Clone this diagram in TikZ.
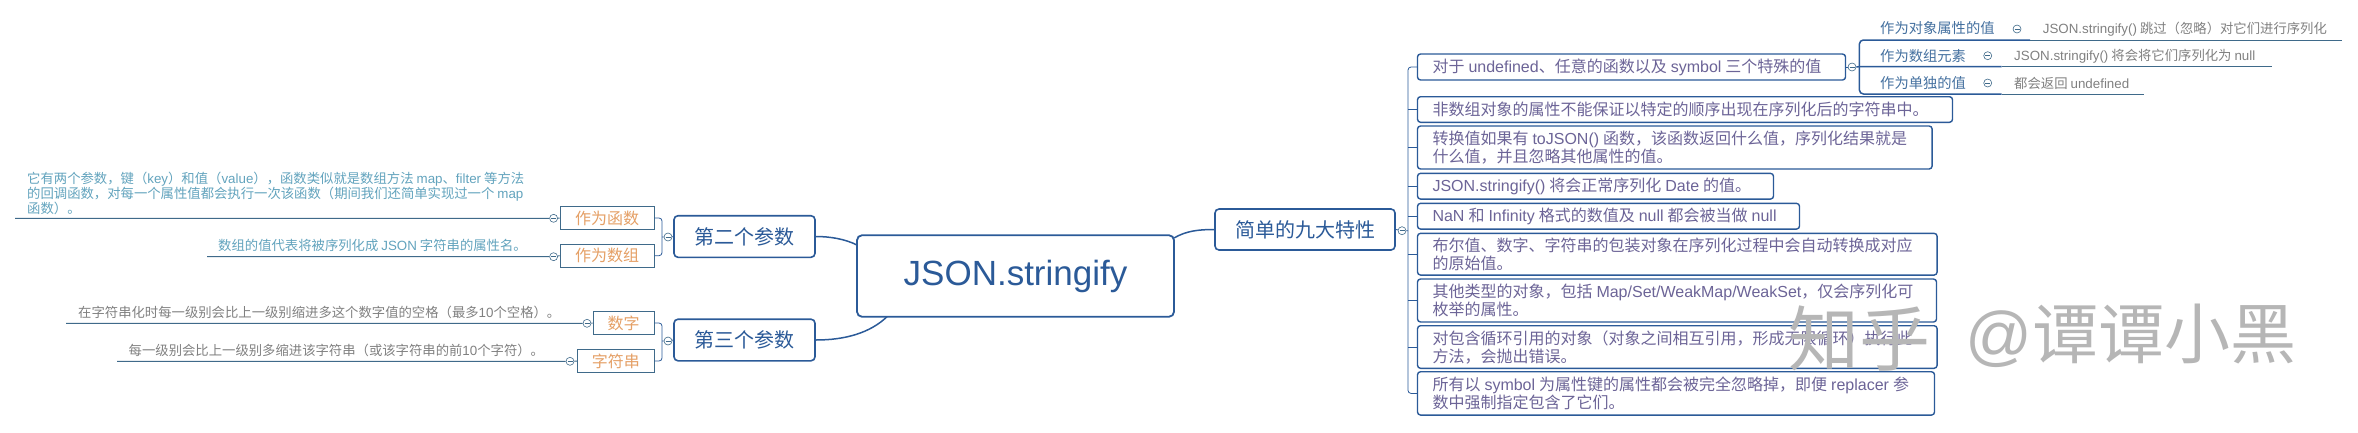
\documentclass[tikz,border=0pt]{standalone}
\usepackage{fontspec}
\setmainfont{Noto Sans CJK SC}
\newfontfamily\lat{Liberation Sans}
\newcommand{\La}[1]{{\lat #1}}
\newcommand{\fsz}[2]{\fontsize{#1}{#2}\selectfont}
\definecolor{mainblue}{HTML}{2B5A98}
\definecolor{lineblue}{HTML}{3F6A8A}
\definecolor{tealtxt}{HTML}{62A3BD}
\definecolor{orangetxt}{HTML}{E5A066}
\definecolor{greytxt}{HTML}{808080}
\definecolor{purptxt}{HTML}{6C6497}
\definecolor{subtxt}{HTML}{44709F}
\definecolor{wm}{HTML}{B6B6B6}
\tikzset{
  rootbox/.style={draw=mainblue,line width=1.8pt,rounded corners=5pt,fill=white,text=mainblue,align=center,inner sep=0pt,font=\lat\fsz{35}{40}},
  mainbox/.style={draw=mainblue,line width=1.6pt,rounded corners=4pt,fill=white,text=mainblue,align=center,inner sep=0pt,font=\fsz{20}{24}},
  orbox/.style={draw=lineblue,line width=.8pt,fill=white,text=orangetxt,align=center,inner sep=0pt,font=\fsz{16}{18}},
  rbox/.style={draw=mainblue,line width=1.4pt,rounded corners=3pt,fill=white,text=purptxt,align=left,inner xsep=15pt,inner ysep=0pt,anchor=west,font=\fsz{16}{18},execute at begin node={\spaceskip=4pt\relax}},
  leaftxt/.style={anchor=west,inner sep=0pt,align=left,font=\fsz{13.35}{15}},
  subtext/.style={anchor=west,inner sep=0pt,text=subtxt,font=\fsz{14.3}{16}},
  subnote/.style={anchor=west,inner sep=0pt,text=greytxt,font=\fsz{13.35}{15}},
  toggle/.style={circle,draw=lineblue,line width=.6pt,fill=white,minimum size=8pt,inner sep=0pt,
    path picture={\draw[lineblue,line width=.6pt] ([xshift=1.5pt]path picture bounding box.west) -- ([xshift=-1.5pt]path picture bounding box.east);}},
  link/.style={draw=mainblue,line width=1.5pt},
  thinlink/.style={draw=lineblue,line width=1pt},
  brace/.style={draw=mainblue,line width=.8pt,rounded corners=3pt},
  wmtxt/.style={inner sep=0pt,anchor=west,text=wm,font=\fsz{66}{70}}
}
\begin{document}
\begin{tikzpicture}[x=1pt,y=-1pt]
\useasboundingbox (0,0) rectangle (2358,432);
% root and main
\node[rootbox,minimum width=317pt,minimum height=81.5pt] (root) at (1015.5,276) {JSON.stringify};
\node[mainbox,minimum width=180pt,minimum height=41pt] (nine) at (1305,229.5) {简单的九大特性};
\node[mainbox,minimum width=141pt,minimum height=41.6pt] (two) at (744.5,236.5) {第二个参数};
\node[mainbox,minimum width=141pt,minimum height=41.6pt] (three) at (744.5,340) {第三个参数};
\coordinate (rootR) at (1174,238);
\coordinate (rootL) at (857,245);
\coordinate (rootB) at (887,316.7);
\draw[link] (rootR) .. controls (1186,231) and (1198,229.5) .. (nine.west);
\draw[link] (rootL) .. controls (845,239) and (830,236.5) .. (two.east);
\draw[link] (rootB) .. controls (870,333) and (845,340) .. (three.east);
% left: second parameter
\node[orbox,minimum width=94pt,minimum height=22.6pt] (fn) at (607,218) {作为函数};
\node[orbox,minimum width=94pt,minimum height=22.6pt] (arr) at (607,255.7) {作为数组};
\node[toggle] (tTwo) at (668,237) {};
\node[toggle] (tFn) at (553.6,218.3) {};
\node[toggle] (tArr) at (553.6,256.7) {};
\coordinate (brTwo) at (662,237);
\coordinate (endFn) at (15,218.3);
\coordinate (endArr) at (207,256.7);
\draw[brace] (fn.east) -| (brTwo) |- (arr.east);
\draw[brace] (brTwo) -- (tTwo) (tTwo) -- (two.west);
\draw[thinlink] (endFn) -- (tFn) (tFn) -- (fn.west);
\draw[thinlink] (endArr) -- (tArr) (tArr) -- (arr.west);
\node[leaftxt,text=tealtxt] (noteFn) at (27,193) {它有两个参数，键（\La{key}）和值（\La{value}），函数类似就是数组方法 \La{map}、\La{filter} 等方法\\的回调函数，对每一个属性值都会执行一次该函数（期间我们还简单实现过一个 \La{map}\\函数）。};
\node[leaftxt,text=tealtxt] (noteArr) at (218,245.7) {数组的值代表将被序列化成 \La{JSON} 字符串的属性名。};
% left: third parameter
\node[orbox,minimum width=61pt,minimum height=22.6pt] (num) at (623.5,323) {数字};
\node[orbox,minimum width=76.5pt,minimum height=22.6pt] (str) at (615.8,361) {字符串};
\node[toggle] (tThree) at (668,341) {};
\node[toggle] (tNum) at (587,323.3) {};
\node[toggle] (tStr) at (570,361.3) {};
\coordinate (brThree) at (662,341);
\coordinate (endNum) at (66,323.3);
\coordinate (endStr) at (117,361.3);
\draw[brace] (num.east) -| (brThree) |- (str.east);
\draw[brace] (brThree) -- (tThree) (tThree) -- (three.west);
\draw[thinlink] (endNum) -- (tNum) (tNum) -- (num.west);
\draw[thinlink] (endStr) -- (tStr) (tStr) -- (str.west);
\node[leaftxt,text=greytxt] (noteNum) at (78,312.7) {在字符串化时每一级别会比上一级别缩进多这个数字值的空格（最多\La{10}个空格）。};
\node[leaftxt,text=greytxt] (noteStr) at (128.5,350.7) {每一级别会比上一级别多缩进该字符串（或该字符串的前\La{10}个字符）。};
% right boxes
\node[rbox,minimum height=26pt,text width=398pt] (b1) at (1416.8,67) {对于 \La{undefined}、任意的函数以及 \La{symbol} 三个特殊的值};
\node[rbox,minimum height=25.6pt,text width=505pt] (b2) at (1416.8,109.5) {非数组对象的属性不能保证以特定的顺序出现在序列化后的字符串中。};
\node[rbox,minimum height=43pt,text width=484.6pt] (b3) at (1416.8,147.5) {转换值如果有 \La{toJSON()} 函数，该函数返回什么值，序列化结果就是\\什么值，并且忽略其他属性的值。};
\node[rbox,minimum height=25.7pt,text width=326pt] (b4) at (1416.8,186.2) {\La{JSON.stringify()} 将会正常序列化 \La{Date} 的值。};
\node[rbox,minimum height=25.7pt,text width=352pt] (b5) at (1416.8,216.2) {\mbox{\La{NaN} 和 \La{Infinity} 格式的数值及 \La{null} 都会被当做 \La{null}}};
\node[rbox,minimum height=41.7pt,text width=489.6pt] (b6) at (1416.8,254.2) {布尔值、数字、字符串的包装对象在序列化过程中会自动转换成对应\\的原始值。};
\node[rbox,minimum height=43pt,text width=489pt] (b7) at (1416.8,300.5) {其他类型的对象，包括 \La{Map/Set/WeakMap/WeakSet}，仅会序列化可\\枚举的属性。};
\node[rbox,minimum height=42.6pt,text width=489.6pt] (b8) at (1416.8,347) {对包含循环引用的对象（对象之间相互引用，形成无限循环）执行此\\方法，会抛出错误。};
\node[rbox,minimum height=43.3pt,text width=487pt] (b9) at (1416.8,393.4) {所有以 \La{symbol} 为属性键的属性都会被完全忽略掉，即便 \La{replacer} 参\\数中强制指定包含了它们。};
\node[toggle] (tNine) at (1402,230.7) {};
\coordinate (spine) at (1408,230.7);
\draw[brace] (b1.west) -| (spine) |- (b9.west);
\draw[brace] (b2.west) -- (b2.west -| spine);
\draw[brace] (b3.west) -- (b3.west -| spine);
\draw[brace] (b4.west) -- (b4.west -| spine);
\draw[brace] (b5.west) -- (b5.west -| spine);
\draw[brace] (b6.west) -- (b6.west -| spine);
\draw[brace] (b7.west) -- (b7.west -| spine);
\draw[brace] (b8.west) -- (b8.west -| spine);
\draw[brace] (nine.east) -- (tNine) (tNine) -- (spine);
% sub items
\node[toggle] (tB1) at (1852,67) {};
\draw[brace] (b1.east) -- (tB1);
\coordinate (brTop) at (1859.4,40);
\coordinate (brBot) at (1859.4,94);
\coordinate (darkTop) at (2030,40);
\coordinate (darkMid) at (2001.7,66.7);
\coordinate (darkBot) at (2001.7,94);
\coordinate (midL) at (1859.4,66.7);
\coordinate (endTop) at (2342,40);
\coordinate (endMid) at (2271.7,66.7);
\coordinate (endBot) at (2144,94);
\draw[link,rounded corners=4pt] (darkTop) -- (brTop) -- (brBot) -- (darkBot);
\draw[link] (tB1) -- (midL) -- (darkMid);
\draw[thinlink] (darkTop) -- (endTop) (darkMid) -- (endMid) (darkBot) -- (endBot);
\node[subtext] (s1) at (1880,28) {作为对象属性的值};
\node[subtext] (s2) at (1880,55.7) {作为数组元素};
\node[subtext] (s3) at (1880,82.7) {作为单独的值};
\node[toggle] (ts1) at (2017,29) {};
\node[toggle] (ts2) at (1987.7,55.7) {};
\node[toggle] (ts3) at (1987.7,83) {};
\node[subnote] (n1) at (2042.6,29.5) {\La{JSON.stringify()} 跳过（忽略）对它们进行序列化};
\node[subnote] (n2) at (2014,56.2) {\La{JSON.stringify()} 将会将它们序列化为 \La{null}};
\node[subnote] (n3) at (2014,83.5) {都会返回 \La{undefined}};
% watermark
\node[wmtxt,font=\fsz{71}{75}] (wmA) at (1788,339) {知乎};
\node[wmtxt] (wmB) at (1965,336) {\La{@}谭谭小黑};
\end{tikzpicture}
\end{document}
